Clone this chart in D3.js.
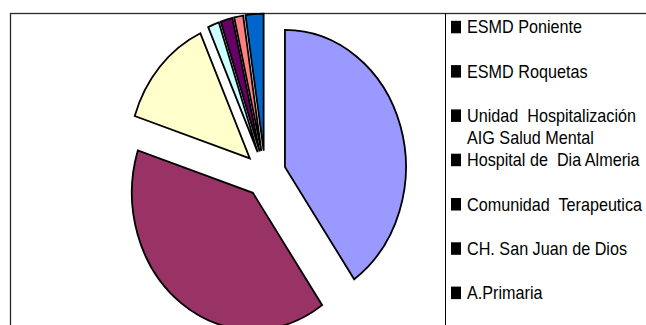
<!DOCTYPE html>
<html>
<head>
<meta charset="utf-8">
<script src="https://cdn.jsdelivr.net/npm/d3@7"></script>
<style>
  body { margin: 0; background: #fff; }
  svg { display: block; }
</style>
</head>
<body>
<svg id="chart" width="646" height="325"></svg>
<script>
// Services and their share of the total
const categories = [
  ["ESMD Poniente"],
  ["ESMD Roquetas"],
  ["Unidad  Hospitalización", "AIG Salud Mental"],
  ["Hospital de  Dia Almeria"],
  ["Comunidad  Terapeutica"],
  ["CH. San Juan de Dios"],
  ["A.Primaria"]
];
const values = [40.3, 39.7, 13.3, 1.5, 1.6, 1.2, 2.4];
const colors = ["#9999FF", "#993366", "#FFFFCC", "#CCFFFF", "#660066", "#FF8080", "#0066CC"];

const svg = d3.select("#chart");

// Outer frame and legend divider
svg.append("rect")
  .attr("x", 10.5).attr("y", 13.5)
  .attr("width", 700).attr("height", 400)
  .attr("fill", "none").attr("stroke", "#2a2a2a").attr("stroke-width", 1.3);
svg.append("line")
  .attr("x1", 445.5).attr("x2", 445.5)
  .attr("y1", 13.5).attr("y2", 325)
  .attr("stroke", "#000").attr("stroke-width", 1);

// Exploded pie, drawn slightly taller than wide
const rx = 121, ry = 137, explode = 0.171;
const pie = d3.pie().sort(null).value(d => d);
const arc = d3.arc().innerRadius(0).outerRadius(rx);
const arcs = pie(values);

const g = svg.append("g")
  .attr("transform", `translate(265.2,174) scale(1,${ry / rx})`);

g.selectAll("path")
  .data(arcs)
  .join("path")
  .attr("d", arc)
  .attr("transform", d => {
    const mid = (d.startAngle + d.endAngle) / 2;
    return `translate(${explode * rx * Math.sin(mid)},${-explode * rx * Math.cos(mid)})`;
  })
  .attr("fill", (d, i) => colors[i])
  .attr("stroke", "#000")
  .attr("stroke-width", 1.8)
  .attr("vector-effect", "non-scaling-stroke");

// Legend: black keys with narrow, tall labels
const legend = svg.append("g");
const baseY = 33.3, stepY = 44.3, lineH = 22.3;
categories.forEach((lines, i) => {
  const y = baseY + i * stepY;
  legend.append("rect")
    .attr("x", 451).attr("y", y - 12.5)
    .attr("width", 10).attr("height", 12.5)
    .attr("fill", "#000");
  const t = legend.append("text")
    .attr("transform", `translate(467,${y}) scale(0.925,1)`)
    .attr("font-family", "'Liberation Sans', Arial, sans-serif")
    .attr("font-size", 17.5)
    .attr("fill", "#000")
    .style("white-space", "pre");
  lines.forEach((ln, j) => {
    t.append("tspan").attr("x", 0).attr("y", j * lineH).text(ln);
  });
});
</script>
</body>
</html>
